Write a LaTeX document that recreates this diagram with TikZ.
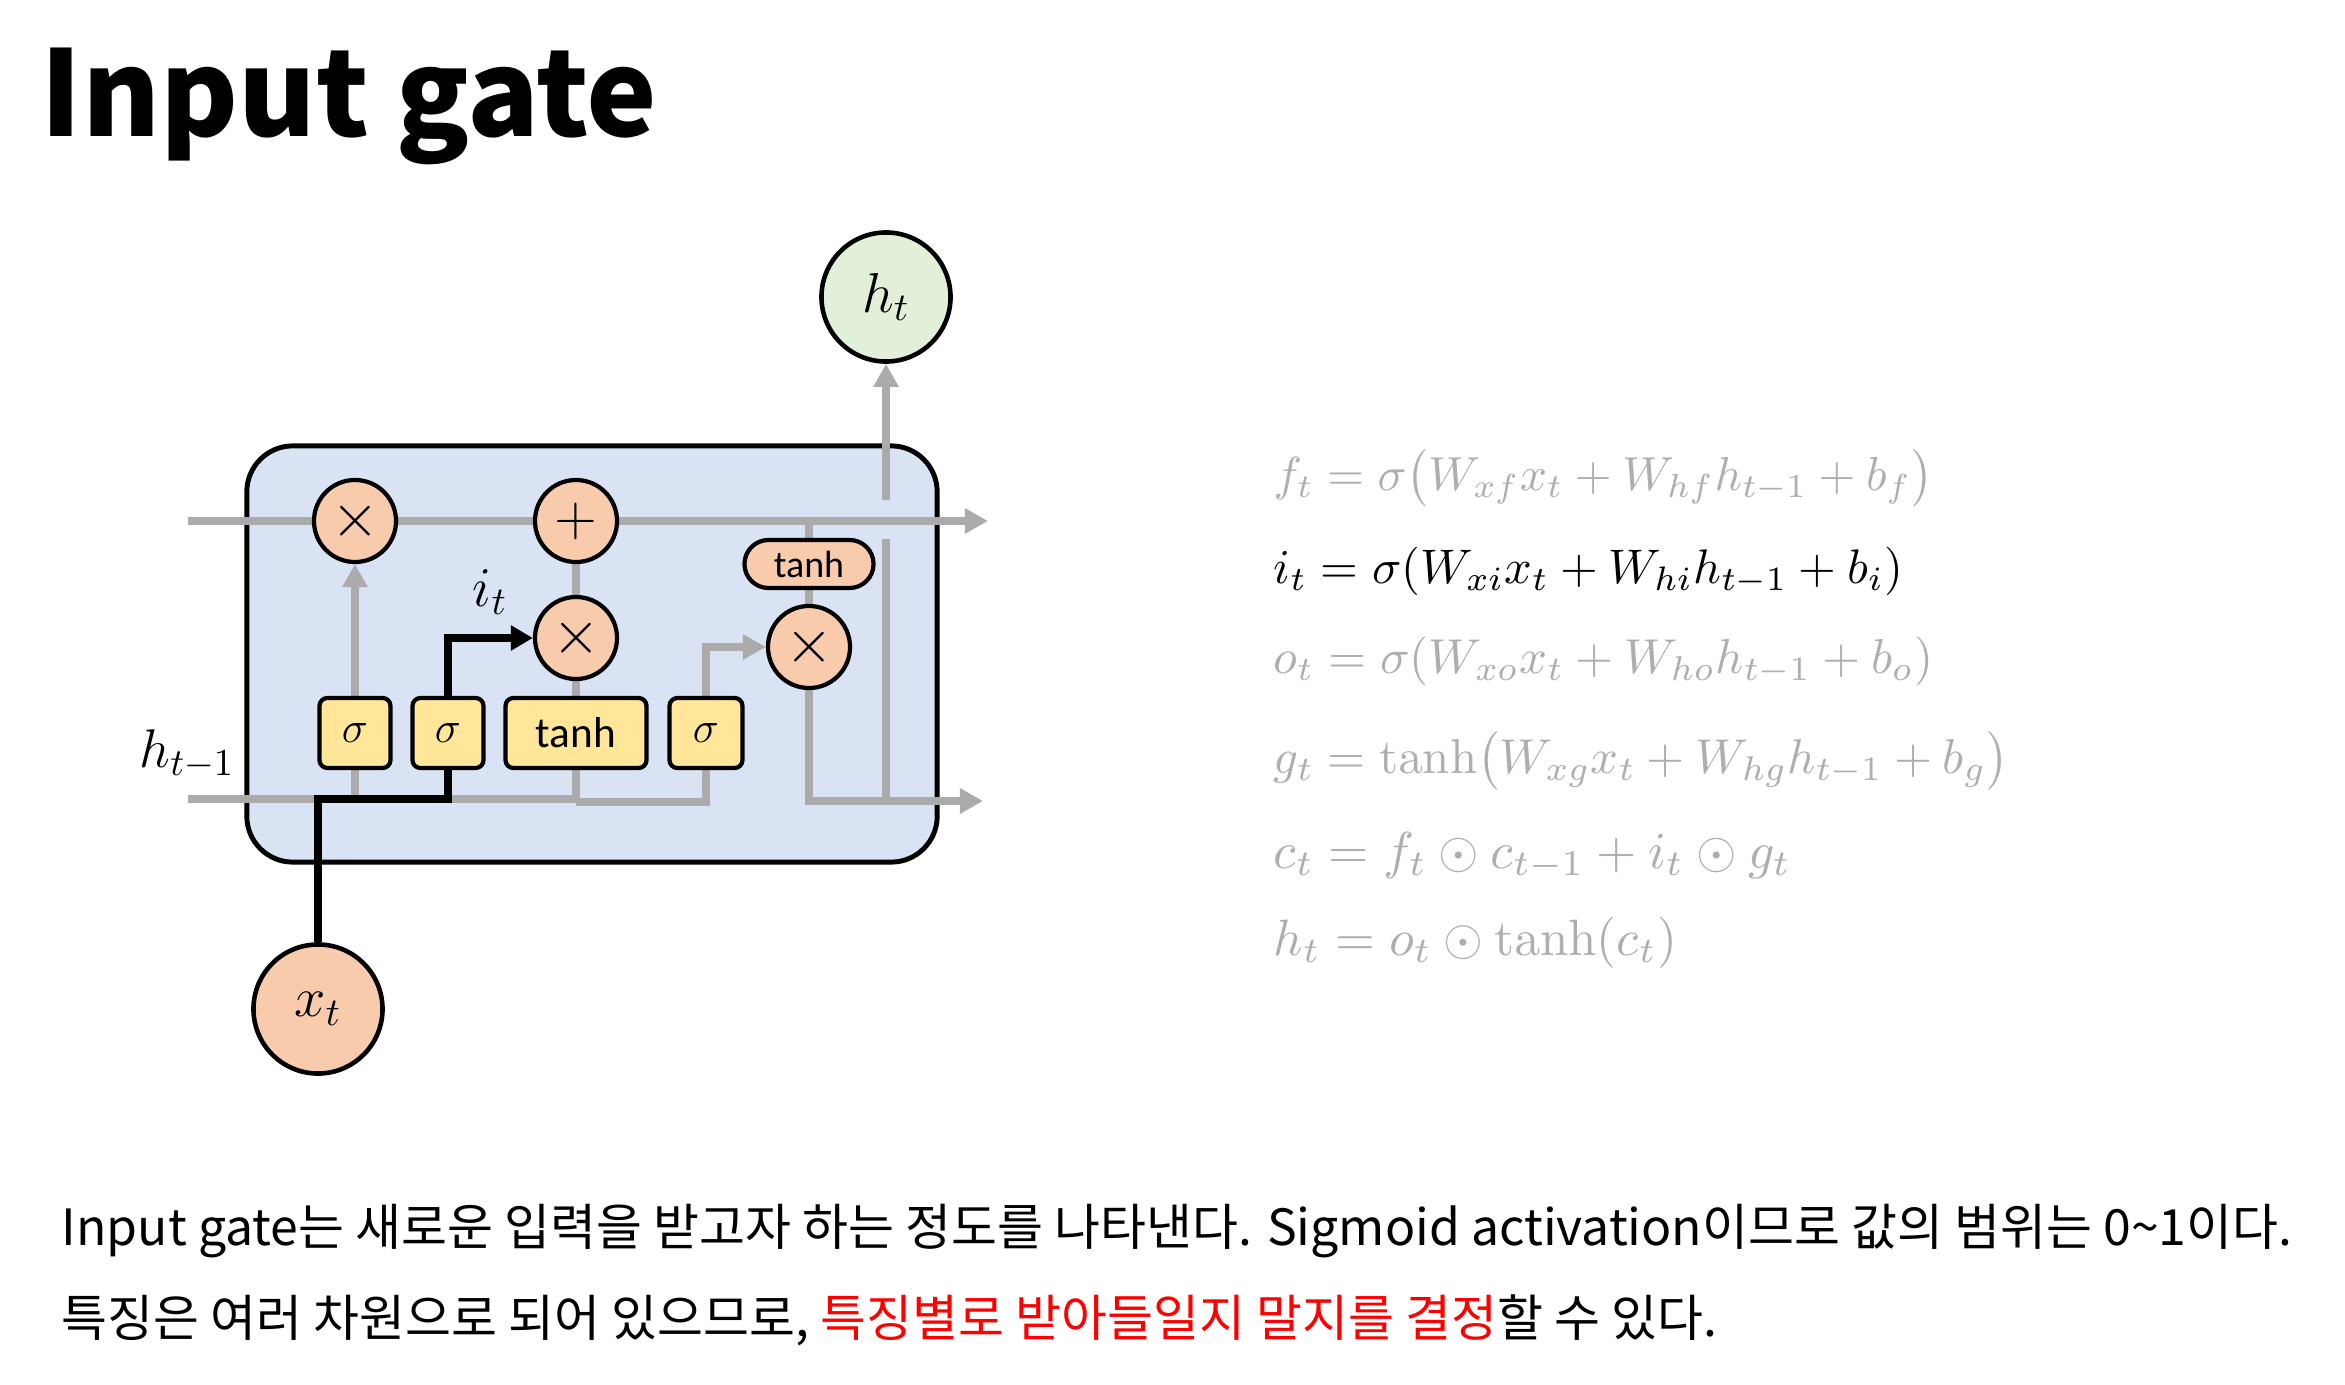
\RequirePackage{fix-cm}
\documentclass[tikz,border=0pt]{standalone}
\usepackage[no-math]{fontspec}
\setmainfont{Noto Sans CJK KR}
\newfontfamily\calib{Carlito}
\usetikzlibrary{arrows.meta}

\definecolor{cellblue}{HTML}{DAE3F3}
\definecolor{peach}{HTML}{F8CBAD}
\definecolor{gold}{HTML}{FFE699}
\definecolor{leaf}{HTML}{E2F0D9}
\definecolor{linegray}{HTML}{ABABAB}
\definecolor{eqgray}{HTML}{AEAEAE}
\definecolor{hired}{HTML}{FF0000}

\pgfdeclarelayer{back}
\pgfdeclarelayer{wires}
\pgfsetlayers{back,wires,main}

\tikzset{
  gline/.style={draw=linegray, line width=2.13pt},
  garrow/.style={gline, -{Triangle[length=0.23cm,width=0.24cm]}},
  bline/.style={draw=black, line width=2.3pt},
  barrow/.style={bline, -{Triangle[length=0.22cm,width=0.24cm]}},
  opnode/.style={circle, draw, line width=1.2pt, fill=peach, minimum size=0.82cm,
    inner sep=0pt, font=\fontsize{17.5}{20}\selectfont},
  actbox/.style={rectangle, rounded corners=0.08cm, draw, line width=1.2pt, fill=gold,
    minimum height=0.70cm, inner sep=0pt},
  iobig/.style={circle, draw, line width=1.3pt, minimum size=1.29cm, inner sep=0pt,
    font=\fontsize{16}{19}\selectfont},
  eq/.style={anchor=base west, inner sep=0pt, text=eqgray},
  mathlbl/.style={anchor=base west, inner sep=0pt, font=\fontsize{15.5}{18}\selectfont},
  bodytext/.style={anchor=base west, inner sep=0pt, font=\fontsize{14.2}{18}\selectfont},
}

\begin{document}
\begin{tikzpicture}[x=0.01cm, y=-0.01cm]
\useasboundingbox (0,0) rectangle (2345,1385);

% heading
\node[anchor=base west, inner sep=0pt, font=\bfseries\fontsize{33.8}{40}\selectfont] (title) at (40,137) {Input gate};

% LSTM cell body
\begin{pgfonlayer}{back}
\node[draw, line width=1.4pt, fill=cellblue, rounded corners=0.46cm,
      minimum width=6.9cm, minimum height=4.16cm, inner sep=0pt] (cell) at (592,654) {};
\end{pgfonlayer}

% point-wise operations
\node[opnode] (mulf) at (355,521) {$\times$};
\node[opnode, font=\fontsize{16}{19}\selectfont] (add) at (576,521) {$+$};
\node[opnode] (muli) at (576,638) {$\times$};
\node[opnode] (mulo) at (809,647) {$\times$};
\node[rectangle, rounded corners=0.24cm, draw, line width=1.2pt, fill=peach,
      minimum width=1.29cm, minimum height=0.48cm, inner sep=0pt,
      font=\calib\fontsize{10.8}{12}\selectfont] (tanhc) at (809,564) {tanh};

% gate layers
\node[actbox, minimum width=0.71cm, font=\fontsize{12.5}{14}\selectfont] (sig1) at (355,733) {$\sigma$};
\node[actbox, minimum width=0.71cm, font=\fontsize{12.5}{14}\selectfont] (sig2) at (448,733) {$\sigma$};
\node[actbox, minimum width=1.41cm, font=\calib\fontsize{12.3}{14}\selectfont] (tanhg) at (576,733) {tanh};
\node[actbox, minimum width=0.73cm, font=\fontsize{12.5}{14}\selectfont] (sig3) at (706,733) {$\sigma$};

% input and output
\node[iobig, fill=leaf] (ht) at (886,297) {$h_t$};
\node[iobig, fill=peach] (xt) at (318,1009) {$x_t$};

\node[mathlbl] (hprev) at (139,767) {$h_{t-1}$};
\node[mathlbl, font=\fontsize{16}{19}\selectfont] (ilbl) at (472,606) {$i_t$};

% wire ends
\coordinate (cin) at (188,521);
\coordinate (cout) at (988,521);
\coordinate (hin) at (188,799);
\coordinate (hstep) at (576,802);
\coordinate (hout) at (983,801);
\coordinate (gapbot) at (886,539);
\coordinate (gaptop) at (886,500);

\begin{pgfonlayer}{wires}
% cell state
\draw[garrow] (cin) -- (cout);
\draw[gline] (tanhc.north) -- (tanhc.north |- cout);
\draw[gline] (tanhc.south) -- (mulo.north);
% hidden state entering
\draw[gline] (hin) -- (tanhg.south |- hin) -- (tanhg.south);
\draw[gline] (sig1.south) -- (sig1.south |- hin);
\draw[gline] (hstep) -- (sig3.south |- hstep) -- (sig3.south);
% gate outputs
\draw[garrow] (sig1.north) -- (mulf.south);
\draw[gline] (tanhg.north) -- (muli.south);
\draw[gline] (muli.north) -- (add.south);
\draw[garrow] (sig3.north) -- (sig3.north |- mulo) -- (mulo.west);
% hidden state leaving
\draw[garrow] (mulo.south) -- (mulo.south |- hout) -- (hout);
\draw[gline] (gaptop |- hout) -- (gapbot);
\draw[garrow] (gaptop) -- (ht.south);
\end{pgfonlayer}

% highlighted input-gate path
\draw[bline] (xt.north) -- (xt.north |- hin) -- (sig2.south |- hin) -- (sig2.south);
\draw[barrow] (sig2.north) -- (sig2.north |- muli) -- (muli.west);

% equations
\node[eq] (eqf) at (1273,490) {\resizebox{6.59cm}{!}{$f_t = \sigma\bigl(W_{xf}x_t + W_{hf}h_{t-1} + b_f\bigr)$}};
\node[eq, text=black] (eqi) at (1273,583) {\resizebox{6.29cm}{!}{$i_t = \sigma(W_{xi}x_t + W_{hi}h_{t-1} + b_i)$}};
\node[eq] (eqo) at (1273,673) {\resizebox{6.59cm}{!}{$o_t = \sigma(W_{xo}x_t + W_{ho}h_{t-1} + b_o)$}};
\node[eq] (eqg) at (1273,773) {\resizebox{7.35cm}{!}{$g_t = \tanh\bigl(W_{xg}x_t + W_{hg}h_{t-1} + b_g\bigr)$}};
\node[eq] (eqc) at (1273,868) {\resizebox{5.17cm}{!}{$c_t = f_t \odot c_{t-1} + i_t \odot g_t$}};
\node[eq] (eqh) at (1273,955) {\resizebox{4.03cm}{!}{$h_t = o_t \odot \tanh(c_t)$}};

% explanation
\node[bodytext] (line1) at (61,1245) {Input gate는 새로운 입력을 받고자 하는 정도를 나타낸다. Sigmoid activation이므로 값의 범위는 0\textasciitilde 1이다.};
\node[bodytext] (line2) at (61,1336) {특징은 여러 차원으로 되어 있으므로, \textcolor{hired}{특징별로 받아들일지 말지를 결정}할 수 있다.};
\end{tikzpicture}
\end{document}
